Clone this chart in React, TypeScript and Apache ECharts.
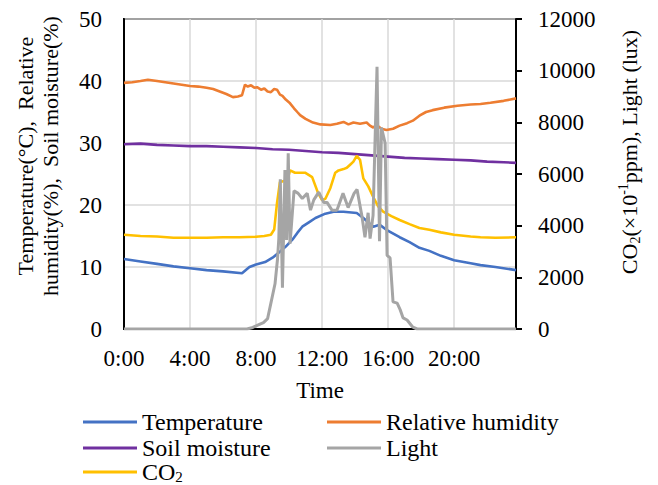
import React, { useEffect, useRef } from "react";
import * as echarts from "echarts";

// ---- Data (time in hours from 0:00) ----
const tempHours = [0, 1, 2, 3, 4, 5, 6, 7.15, 7.6, 8.0, 8.55, 9.0, 9.33, 9.8, 10.2, 10.5, 10.8, 11.2, 11.6, 12.2, 12.7, 13.3, 14.1, 14.5, 15.1, 15.5, 15.9, 16.7, 17.3, 17.9, 18.5, 19.2, 20, 21, 21.6, 22.5, 23.75];
const tempValues = [11.3, 10.9, 10.5, 10.1, 9.8, 9.5, 9.3, 9.0, 10.0, 10.4, 10.8, 11.5, 12.2, 13.3, 14.4, 15.5, 16.5, 17.2, 17.9, 18.6, 18.9, 18.9, 18.7, 17.9, 16.5, 16.8, 16.0, 14.8, 14.0, 13.1, 12.6, 11.8, 11.1, 10.6, 10.3, 10.0, 9.5];

const humHours = [0, 0.5, 1.0, 1.45, 2, 2.5, 3, 3.5, 4, 4.5, 5, 5.4, 5.8, 6.2, 6.6, 6.9, 7.15, 7.33, 7.5, 7.7, 7.9, 8.06, 8.3, 8.5, 8.7, 8.9, 9.1, 9.27, 9.45, 9.6, 9.8, 10.06, 10.3, 10.5, 10.67, 11, 11.45, 11.9, 12.5, 12.9, 13.3, 13.6, 13.9, 14.3, 14.7, 14.9, 15.1, 15.3, 15.6, 15.9, 16.3, 16.7, 17.15, 17.5, 17.9, 18.3, 18.7, 19.4, 20.2, 21, 21.6, 22.2, 23, 23.75];
const humValues = [39.7, 39.8, 40.0, 40.2, 40.0, 39.8, 39.6, 39.4, 39.2, 39.1, 38.9, 38.7, 38.3, 37.9, 37.4, 37.5, 37.7, 39.4, 39.1, 39.3, 38.9, 39.0, 38.6, 38.8, 38.3, 38.2, 38.7, 38.6, 37.8, 37.6, 37.0, 36.4, 35.6, 35.0, 34.5, 33.9, 33.3, 33.0, 32.9, 33.1, 33.4, 33.0, 33.3, 33.1, 33.3, 32.8, 32.5, 32.9, 32.3, 32.1, 32.3, 32.8, 33.2, 33.6, 34.4, 35.0, 35.3, 35.7, 36.0, 36.2, 36.3, 36.5, 36.8, 37.2];

const soilHours = [0, 1, 2, 3, 4, 5, 6, 7, 8, 9, 10, 11, 12, 13, 14, 15, 16, 17, 18, 19, 20, 21, 22, 23, 23.75];
const soilValues = [29.8, 29.9, 29.7, 29.6, 29.5, 29.5, 29.4, 29.3, 29.2, 29.0, 28.9, 28.7, 28.5, 28.4, 28.2, 28.0, 27.8, 27.6, 27.5, 27.4, 27.3, 27.2, 27.0, 26.9, 26.8];

const co2Hours = [0, 1, 2, 3, 4, 5, 6, 7, 8, 8.5, 8.9, 9.1, 9.27, 9.45, 9.9, 10.06, 10.36, 10.97, 11.4, 11.76, 12.0, 12.2, 12.5, 12.8, 13.0, 13.3, 13.5, 13.7, 13.9, 14.1, 14.3, 14.5, 14.8, 15.1, 15.4, 15.7, 16.2, 16.7, 17.3, 17.9, 18.5, 19.2, 20, 21, 21.6, 22.5, 23.75];
const co2Values = [3650, 3600, 3580, 3530, 3530, 3530, 3550, 3550, 3570, 3600, 3650, 3850, 4870, 5690, 5760, 6140, 6050, 6050, 5880, 5260, 4990, 5040, 5450, 6050, 6140, 6190, 6240, 6360, 6480, 6700, 6550, 5830, 5520, 5110, 4750, 4540, 4370, 4220, 4060, 3910, 3840, 3740, 3650, 3580, 3550, 3530, 3550];

const lightHours = [0, 7.45, 7.8, 8.1, 8.45, 8.7, 8.9, 9.15, 9.3, 9.38, 9.47, 9.6, 9.75, 9.85, 9.95, 10.06, 10.3, 10.55, 10.8, 11.1, 11.3, 11.5, 11.8, 12.1, 12.3, 12.6, 12.9, 13.27, 13.58, 13.94, 14.12, 14.42, 14.6, 14.79, 14.91, 15.09, 15.33, 15.48, 15.6, 15.82, 15.94, 16.12, 16.3, 16.55, 16.73, 16.91, 17.15, 17.5, 17.76, 23.75];
const lightValues = [0, 0, 60, 150, 250, 400, 1000, 1750, 2700, 3500, 5800, 1600, 6150, 3450, 6800, 3300, 5350, 5250, 5050, 5250, 4600, 5000, 5300, 4900, 4900, 4600, 4600, 5250, 4700, 5250, 5400, 4350, 3550, 4500, 3500, 4400, 10150, 3400, 7800, 7200, 2850, 2750, 1050, 1000, 750, 430, 350, 70, 0, 0];

const xTickHours = [0, 4, 8, 12, 16, 20];

const FONT = "Liberation Serif";

const zip = (xs: number[], ys: number[]) => xs.map((x, i) => [x, ys[i]]);

export default function App() {
  const ref = useRef<HTMLDivElement>(null);
  useEffect(() => {
    if (!ref.current) return;
    document.body.style.margin = "0";
    const chart = echarts.init(ref.current, undefined, { renderer: "svg" });
    const lineSeries = (name: string, color: string, data: number[][], yAxisIndex: number, width = 2.6) => ({
      name,
      type: "line",
      yAxisIndex,
      data,
      color,
      showSymbol: false,
      symbol: "none",
      lineStyle: { color, width },
      itemStyle: { color },
    });
    const legendText = {
      fontFamily: FONT,
      fontSize: 24,
      color: "#000",
      lineHeight: 25,
      rich: {
        n: { fontFamily: FONT, fontSize: 24, color: "#000", lineHeight: 25 },
        s: { fontFamily: FONT, fontSize: 15, color: "#000", lineHeight: 14, verticalAlign: "bottom" },
      },
    };
    const legendFormatter = (name: string) => (name === "CO2" ? "{n|CO}{s|2}" : name);
    const legendItem = (name: string, left: number, center: number) => ({
      data: [name],
      orient: "horizontal",
      left,
      top: center - 12.5,
      icon: "rect",
      itemWidth: 54,
      itemHeight: 3,
      padding: 0,
      textStyle: legendText,
      formatter: legendFormatter,
    });
    chart.setOption({
      animation: false,
      textStyle: { fontFamily: FONT },
      grid: { left: 124, right: 142, top: 19, bottom: 156, show: true, borderColor: "#000", borderWidth: 2 },
      legend: [
        legendItem("Temperature", 83, 422),
        legendItem("Relative humidity", 327, 422),
        legendItem("Soil moisture", 83, 448),
        legendItem("Light", 327, 448),
        legendItem("CO2", 83, 472),
      ],
      xAxis: {
        type: "value",
        min: 0,
        max: 23.75,
        interval: 4,
        name: "Time",
        nameLocation: "middle",
        nameGap: 50,
        nameTextStyle: { fontFamily: FONT, fontSize: 23, color: "#000" },
        axisLine: { show: true, lineStyle: { color: "#000", width: 2 } },
        axisTick: { show: false },
        axisLabel: {
          fontFamily: FONT,
          fontSize: 23,
          color: "#000",
          margin: 18,
          showMaxLabel: false,
          formatter: (v: number) => (xTickHours.includes(v) ? `${v}:00` : ""),
        },
        splitLine: { show: true, lineStyle: { color: "#d9d9d9", width: 1.5 } },
      },
      yAxis: [
        {
          type: "value",
          min: 0,
          max: 50,
          interval: 10,
          position: "left",
          name: "Temperature(°C),  Relative\nhumidity(%),  Soil moisture(%)",
          nameLocation: "middle",
          nameGap: 61,
          nameTextStyle: { fontFamily: FONT, fontSize: 22, color: "#000", lineHeight: 25, padding: [0, 0, 0, 36] },
          axisLine: { show: true, lineStyle: { color: "#000", width: 2 } },
          axisTick: { show: false },
          axisLabel: { fontFamily: FONT, fontSize: 23, color: "#000", margin: 22 },
          splitLine: { show: true, lineStyle: { color: "#d9d9d9", width: 1.5 } },
        },
        {
          type: "value",
          min: 0,
          max: 12000,
          interval: 2000,
          position: "right",
          name: "{n|CO}{sub|2}{n|(×10}{sup|-1}{n|ppm), Light (lux)}",
          nameLocation: "middle",
          nameGap: 100,
          nameTextStyle: {
            fontFamily: FONT,
            fontSize: 22,
            color: "#000",
            padding: [0, 0, 0, 44],
            rich: {
              n: { fontFamily: FONT, fontSize: 22, color: "#000", lineHeight: 26 },
              sub: { fontFamily: FONT, fontSize: 14, color: "#000", lineHeight: 14, verticalAlign: "bottom" },
              sup: { fontFamily: FONT, fontSize: 14, color: "#000", lineHeight: 14, verticalAlign: "top" },
            },
          },
          axisLine: { show: true, lineStyle: { color: "#000", width: 2 } },
          axisTick: { show: true, inside: false, length: 6, lineStyle: { color: "#000", width: 2 } },
          axisLabel: { fontFamily: FONT, fontSize: 23, color: "#000", margin: 22, formatter: (v: number) => String(v) },
          splitLine: { show: false },
        },
      ],
      series: [
        lineSeries("Temperature", "#4472c4", zip(tempHours, tempValues), 0),
        lineSeries("Relative humidity", "#ed7d31", zip(humHours, humValues), 0),
        lineSeries("Soil moisture", "#7030a0", zip(soilHours, soilValues), 0),
        lineSeries("CO2", "#ffc000", zip(co2Hours, co2Values), 1),
        lineSeries("Light", "#a5a5a5", zip(lightHours, lightValues), 1, 3),
      ],
    });
    return () => chart.dispose();
  }, []);
  return <div ref={ref} style={{ width: 658, height: 485 }} />;
}
